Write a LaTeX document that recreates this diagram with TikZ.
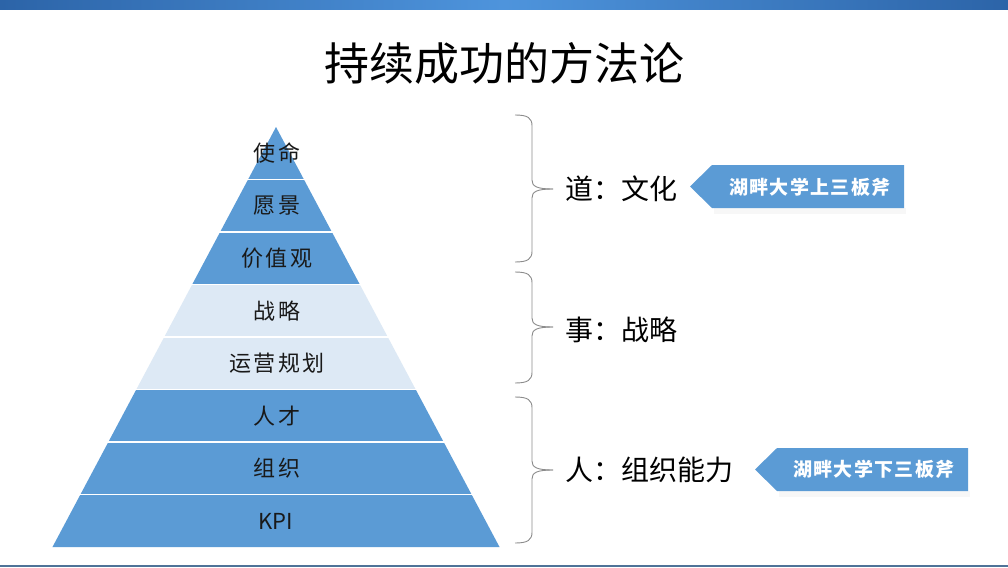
\documentclass[tikz,border=0pt]{standalone}
\usepackage{fontspec}
\newfontfamily\cjk{Noto Sans CJK SC}
\newfontfamily\cjklv[LetterSpace=10]{Noto Sans CJK SC}
\newfontfamily\cjktag[LetterSpace=7]{Noto Sans CJK SC}
\definecolor{pblue}{RGB}{91,155,213}
\definecolor{plight}{RGB}{221,233,245}
\definecolor{bracegray}{RGB}{140,140,140}
\definecolor{barA}{RGB}{44,100,168}
\definecolor{barB}{RGB}{78,148,220}
\definecolor{lineblue}{RGB}{79,115,152}
\newcommand\mybrace[3]{%
  \draw[bracestyle] (515,#1) .. controls (528,#1) and (532,{#1+3}) .. (532,{#1+11})
     -- (532,{#2-9}) .. controls (532,{#2-3}) and (536,#2) .. (553,#2);
  \draw[bracestyle] (553,#2) .. controls (536,#2) and (532,{#2+3}) .. (532,{#2+9})
     -- (532,{#3-11}) .. controls (532,{#3-3}) and (528,#3) .. (515,#3);}
\begin{document}
\begin{tikzpicture}[x=1pt,y=-1pt,
  lvl/.style={font=\cjklv\fontsize{22}{26}\selectfont, text=black!90, inner sep=0pt},
  side/.style={font=\cjk\fontsize{28}{32}\selectfont, text=black, anchor=west, inner sep=0pt},
  tagtext/.style={font=\cjktag\bfseries\fontsize{19}{22}\selectfont, text=white, inner sep=0pt},
  bracestyle/.style={draw=bracegray, line width=0.9pt},
  sep/.style={draw=white, line width=1.8pt},
  tagshape/.style={fill=pblue}]
\useasboundingbox (0,0) rectangle (1008,567);
\fill[white] (0,0) rectangle (1008,567);
% top bar and bottom line
\shade[left color=barA, right color=barA, middle color=barB] (0,0) rectangle (1008,10);
\fill[lineblue] (0,564.5) rectangle (1008,567);
% title
\node[font=\cjk\fontsize{45}{50}\selectfont, inner sep=0pt] (title) at (504,63) {持续成功的方法论};
% pyramid
\foreach \k/\c in {0/pblue,1/pblue,2/pblue,3/plight,4/plight,5/pblue,6/pblue,7/pblue}{
  \fill[\c] ({276-27.94*\k},{127+52.5*\k}) -- ({276+27.94*\k},{127+52.5*\k})
     -- ({276+27.94*(\k+1)},{127+52.5*(\k+1)}) -- ({276-27.94*(\k+1)},{127+52.5*(\k+1)}) -- cycle;
}
\foreach \k in {1,...,7}{
  \draw[sep] ({276-27.94*\k-2},{127+52.5*\k}) -- ({276+27.94*\k+2},{127+52.5*\k});
}
\node[lvl] (l1) at (277,153) {使命};
\node[lvl] (l2) at (277,206) {愿景};
\node[lvl] (l3) at (277,258) {价值观};
\node[lvl] (l4) at (277,311) {战略};
\node[lvl] (l5) at (277,363) {运营规划};
\node[lvl] (l6) at (277,416) {人才};
\node[lvl] (l7) at (277,468) {组织};
\node[font=\cjk\fontsize{22}{26}\selectfont, text=black!90, inner sep=0pt] (l8) at (276,521) {KPI};
% braces
\mybrace{115}{189}{262}
\mybrace{272}{327}{383}
\mybrace{397}{470}{543}
% side labels
\node[side] (s1) at (565,189) {道：文化};
\node[side] (s2) at (565,330) {事：战略};
\node[side] (s3) at (565,470) {人：组织能力};
% tags
\fill[black!3] (714,208) rectangle (906,214);
\fill[tagshape] (690,186.5) -- (712,165) -- (904,165) -- (904,208) -- (712,208) -- cycle;
\node[tagtext] (t1) at (810,187) {湖畔大学上三板斧};
\fill[black!3] (779,491) rectangle (970,497);
\fill[tagshape] (755,469.5) -- (777,448) -- (968,448) -- (968,491) -- (777,491) -- cycle;
\node[tagtext] (t2) at (874,469.5) {湖畔大学下三板斧};
\end{tikzpicture}
\end{document}
